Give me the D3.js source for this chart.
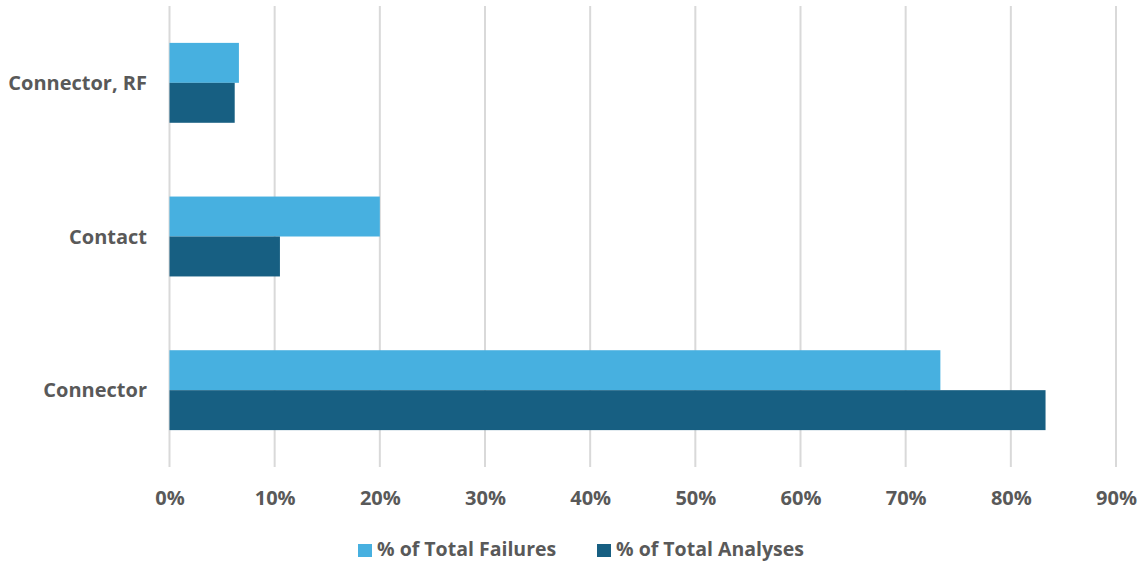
<!DOCTYPE html>
<html><head><meta charset="utf-8">
<script src="https://cdn.jsdelivr.net/npm/d3@7"></script>
<style>html,body{margin:0;padding:0;background:#fff;}svg{display:block;}</style>
</head><body>
<svg id="chart" width="1141" height="562"></svg>
<script>
const categories = ["Connector, RF", "Contact", "Connector"];
const seriesNames = ["% of Total Failures", "% of Total Analyses"];
const failures = [6.6, 20.0, 73.3];
const analyses = [6.2, 10.5, 83.3];
const xTicks = [0, 10, 20, 30, 40, 50, 60, 70, 80, 90];
const colors = ["#47B0E0", "#175F82"];

(function () {
const svg = d3.select("#chart");
const mLeft = 169.5, mRight = 1116, mTop = 6, mBottom = 467;
const font = "'Open Sans', sans-serif";
const textColor = "#595959";

const x = d3.scaleLinear().domain([0, 90]).range([mLeft, mRight]);
const y = d3.scaleBand().domain(categories).range([mTop, mBottom]).paddingInner(0.48).paddingOuter(0.24);
const sub = d3.scaleBand().domain(seriesNames).range([0, y.bandwidth()]);

// gridlines
svg.append("g").selectAll("line").data(xTicks).join("line")
  .attr("x1", d => x(d)).attr("x2", d => x(d))
  .attr("y1", mTop).attr("y2", mBottom)
  .attr("stroke", "#d9d9d9").attr("stroke-width", 2);

// bars
const seriesData = [failures, analyses];
seriesNames.forEach((s, si) => {
  svg.append("g").selectAll("rect").data(categories).join("rect")
    .attr("x", x(0))
    .attr("y", c => y(c) + sub(s))
    .attr("width", (c, i) => x(seriesData[si][i]) - x(0))
    .attr("height", sub.bandwidth())
    .attr("fill", colors[si]);
});

// x axis labels
const xAxis = d3.axisBottom(x).tickValues(xTicks).tickFormat(d => d + "%").tickSize(0).tickPadding(0);
const gx = svg.append("g").attr("transform", `translate(0,${mBottom})`).call(xAxis);
gx.select(".domain").remove();
gx.selectAll("text").attr("y", 31).attr("dy", "0.35em")
  .attr("font-family", font).attr("font-weight", "bold").attr("font-size", 20).attr("fill", textColor);

// y axis labels
const yAxis = d3.axisLeft(y).tickSize(0).tickPadding(0);
const gy = svg.append("g").attr("transform", `translate(147,0)`).call(yAxis);
gy.select(".domain").remove();
gy.selectAll("text").attr("x", 0).attr("dy", "0.35em")
  .attr("font-family", font).attr("font-weight", "bold").attr("font-size", 20).attr("fill", textColor);

// legend
const legendItems = [{name: seriesNames[0], x: 358, color: colors[0]}, {name: seriesNames[1], x: 597, color: colors[1]}];
const lg = svg.append("g");
legendItems.forEach(it => {
  lg.append("rect").attr("x", it.x).attr("y", 544).attr("width", 14).attr("height", 13).attr("fill", it.color);
  lg.append("text").attr("x", it.x + 19).attr("y", 549).attr("dy", "0.35em")
    .attr("font-family", font).attr("font-weight", "bold").attr("font-size", 19.5).attr("fill", textColor)
    .text(it.name);
});
})();
</script>
</body></html>
